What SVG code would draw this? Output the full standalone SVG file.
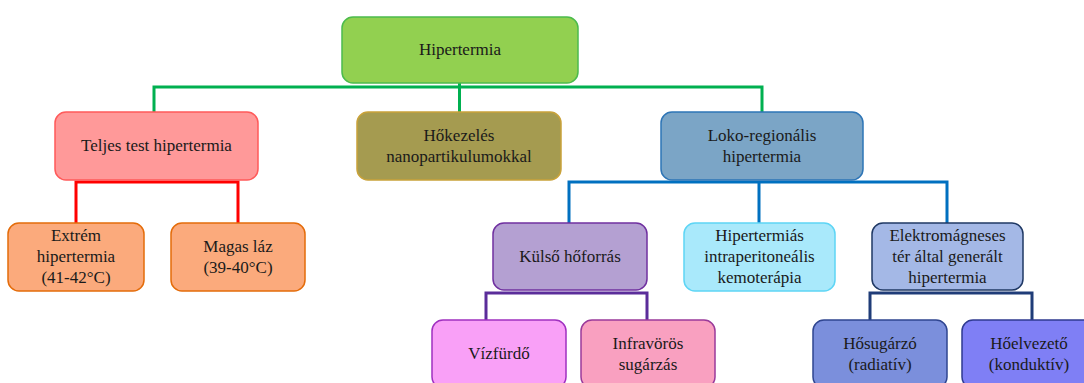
<svg xmlns="http://www.w3.org/2000/svg" width="1084" height="383" viewBox="0 0 1084 383">
<style>
text{font-family:'Liberation Serif','DejaVu Serif','Times New Roman',serif;font-size:17px;fill:#1a1a1a;text-anchor:middle}
.n{stroke-width:1.5}
.c{fill:none;stroke-width:3;stroke-linejoin:miter}
</style>
<rect width="1084" height="383" fill="#ffffff"/>
<g id="connectors">
<path class="c" stroke="#00b050" d="M154,112 V87 H762 V112 M459.5,83 V112"/>
<path class="c" stroke="#ff0000" d="M76,223 V182 H238 V223"/>
<path class="c" stroke="#0070c0" d="M569,223 V182 H947 V223 M759,182 V223"/>
<path class="c" stroke="#5b2d9a" d="M486,320 V293 H647 V320"/>
<path class="c" stroke="#1f3c78" d="M870,320 V293 H1032 V320"/>
</g>
<g id="root">
<rect class="n" x="342" y="17" width="236" height="66" rx="11" fill="#92d050" stroke="#4cbb4c"/>
<text x="460" y="55">Hipertermia</text>
</g>
<g id="teljes">
<rect class="n" x="55" y="112" width="203" height="68" rx="11" fill="#ff9999" stroke="#ff5a5a"/>
<text x="156.5" y="151">Teljes test hipertermia</text>
</g>
<g id="hokezeles">
<rect class="n" x="357" y="112" width="204" height="68" rx="11" fill="#a59b50" stroke="#c9a23a"/>
<text x="459" y="140.5">Hőkezelés</text>
<text x="459" y="161.5">nanopartikulumokkal</text>
</g>
<g id="loko">
<rect class="n" x="661" y="112" width="202" height="68" rx="11" fill="#7ba5c6" stroke="#2e75b6"/>
<text x="762" y="140.5">Loko-regionális</text>
<text x="762" y="161.5">hipertermia</text>
</g>
<g id="extrem">
<rect class="n" x="8" y="223" width="136" height="68" rx="11" fill="#fbaa7c" stroke="#e46c0a"/>
<text x="76" y="241">Extrém</text>
<text x="76" y="262">hipertermia</text>
<text x="76" y="283">(41-42°C)</text>
</g>
<g id="magas">
<rect class="n" x="171" y="223" width="134" height="68" rx="11" fill="#fbaa7c" stroke="#e46c0a"/>
<text x="238" y="251.5">Magas láz</text>
<text x="238" y="272.5">(39-40°C)</text>
</g>
<g id="kulso">
<rect class="n" x="493" y="223" width="154" height="67" rx="11" fill="#b4a0d2" stroke="#7030a0"/>
<text x="570" y="262">Külső hőforrás</text>
</g>
<g id="hipec">
<rect class="n" x="684" y="223" width="151" height="68" rx="11" fill="#a9e9fb" stroke="#5dd5f5"/>
<text x="759.5" y="241">Hipertermiás</text>
<text x="759.5" y="262">intraperitoneális</text>
<text x="759.5" y="283">kemoterápia</text>
</g>
<g id="elektro">
<rect class="n" x="872" y="223" width="151" height="67" rx="11" fill="#a4b8e6" stroke="#1f3864"/>
<text x="947.5" y="241">Elektromágneses</text>
<text x="947.5" y="262">tér által generált</text>
<text x="947.5" y="283">hipertermia</text>
</g>
<g id="vizfurdo">
<rect class="n" x="432" y="320" width="134" height="68" rx="11" fill="#f9a0f7" stroke="#a030c0"/>
<text x="499" y="359">Vízfürdő</text>
</g>
<g id="infra">
<rect class="n" x="581" y="320" width="134" height="68" rx="11" fill="#f9a0c0" stroke="#9a3a9a"/>
<text x="648" y="348.5">Infravörös</text>
<text x="648" y="369.5">sugárzás</text>
</g>
<g id="hosugarzo">
<rect class="n" x="813" y="320" width="134" height="68" rx="11" fill="#7b8fdc" stroke="#2f4590"/>
<text x="880" y="348.5">Hősugárzó</text>
<text x="880" y="369.5">(radiatív)</text>
</g>
<g id="hoelvezeto">
<rect class="n" x="962" y="320" width="134" height="68" rx="11" fill="#7f7ff5" stroke="#2f3a90"/>
<text x="1029" y="348.5">Hőelvezető</text>
<text x="1029" y="369.5">(konduktív)</text>
</g>
</svg>
